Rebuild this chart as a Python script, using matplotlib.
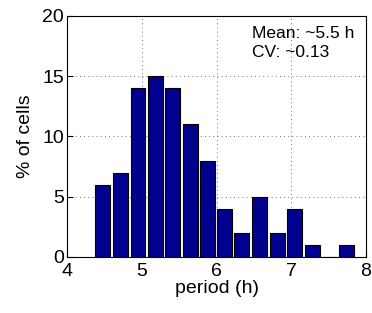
import numpy as np
import matplotlib
matplotlib.use('Agg')
import matplotlib.pyplot as plt

plt.rcParams['font.family'] = ['Liberation Sans', 'DejaVu Sans']

# histogram of cell periods
bin_centers = [4.48, 4.71, 4.95, 5.18, 5.41, 5.65, 5.88, 6.11, 6.34, 6.58,
               6.81, 7.04, 7.28, 7.51, 7.74]
pct_cells = [6, 7, 14, 15, 14, 11, 8, 4, 2, 5, 2, 4, 1, 0, 1]

fig = plt.figure(figsize=(3.72, 3.13), dpi=100)
ax = fig.add_axes([0.180, 0.179, 0.804, 0.770])

ax.bar(bin_centers, pct_cells, width=0.2, color='#00008F', edgecolor='black',
       linewidth=0.8, zorder=3)

ax.set_xlim(4, 8)
ax.set_ylim(0, 20)
ax.set_xticks([4, 5, 6, 7, 8])
ax.set_yticks([0, 5, 10, 15, 20])
ax.tick_params(direction='in', labelsize=14, length=4)
ax.tick_params(axis='x', pad=4)
ax.tick_params(axis='y', pad=2)
ax.grid(True, linestyle=(0, (1, 4)), color='#444444', linewidth=0.6, zorder=0)
ax.set_xlabel('period (h)', fontsize=14, labelpad=0)
ax.set_ylabel('% of cells', fontsize=14, labelpad=6)

ax.text(0.619, 0.909, 'Mean: ~5.5 h', transform=ax.transAxes,
        fontsize=12.5, va='baseline', ha='left', zorder=5)
ax.text(0.619, 0.830, 'CV: ~0.13', transform=ax.transAxes,
        fontsize=12.5, va='baseline', ha='left', zorder=5)

fig.savefig('out.png', dpi=100)
